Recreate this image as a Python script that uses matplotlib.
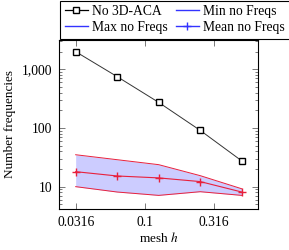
import matplotlib
matplotlib.use("Agg")
import matplotlib.pyplot as plt
from matplotlib.lines import Line2D
from matplotlib.ticker import FixedLocator, LogLocator, NullFormatter, FuncFormatter

plt.rcParams['font.family'] = ['Liberation Serif', 'DejaVu Serif']
plt.rcParams['mathtext.fontset'] = 'stix'

# mesh sizes h = 1/32 ... 1/2
mesh_h = [1 / 32, 1 / 16, 1 / 8, 1 / 4, 1 / 2]
no_aca = [2000, 750, 273, 91, 27.5]
min_freqs = [10, 8.1, 7.1, 8.2, 7.1]
max_freqs = [35, 28.8, 23.7, 15.4, 9.2]
mean_freqs = [18, 15.2, 14.1, 12.2, 8.1]

x_ticks = [0.0316, 0.1, 0.316]
x_ticklabels = ['0.0316', '0.1', '0.316']
y_ticks = [10, 100, 1000]

RED = '#e8203c'
FILL = '#ccccff'
BLUE = '#3333ff'

fig = plt.figure(figsize=(2.89, 2.5), dpi=100)
ax = fig.add_axes([0.204, 0.163, 0.690, 0.678])

ax.fill_between(mesh_h, min_freqs, max_freqs, color=FILL, lw=0)
ax.plot(mesh_h, min_freqs, color=RED, lw=0.7)
ax.plot(mesh_h, max_freqs, color=RED, lw=0.7)
ax.plot(mesh_h, mean_freqs, color=RED, lw=0.8, marker='+', ms=6, mew=1.0)
ax.plot(mesh_h, no_aca, color='#333333', lw=0.7, marker='s', ms=4.5,
        mfc='white', mec='black', mew=1.0)

ax.set_xscale('log')
ax.set_yscale('log')
ax.set_xlim(0.02365, 0.66)
ax.set_ylim(4.12, 3190)

ax.xaxis.set_major_locator(FixedLocator(x_ticks))
ax.set_xticklabels(x_ticklabels)
ax.xaxis.set_minor_locator(FixedLocator([]))
ax.yaxis.set_major_locator(FixedLocator(y_ticks))
ax.yaxis.set_major_formatter(FuncFormatter(lambda v, p: f'{int(round(v)):,}'))
ax.yaxis.set_minor_locator(LogLocator(base=10, subs=range(2, 10)))
ax.yaxis.set_minor_formatter(NullFormatter())

ax.tick_params(which='both', direction='in', top=True, right=True,
               labelsize=9.8, colors='#444444', labelcolor='black', width=0.5)
ax.tick_params(which='major', length=4, pad=5)
ax.tick_params(which='minor', length=2.2)
for s in ax.spines.values():
    s.set_linewidth(0.8)

ax.set_xlabel('mesh $h$', fontsize=9.5, labelpad=1)
ax.set_ylabel('Number frequencies', fontsize=9.5, labelpad=4)

# matplotlib fills legend column by column
handles = [
    Line2D([], [], color='black', lw=0.9, marker='s', ms=4.5, mfc='white', mew=1.0),
    Line2D([], [], color=BLUE, lw=1.0),
    Line2D([], [], color=BLUE, lw=1.0),
    Line2D([], [], color=BLUE, lw=1.0, marker='+', ms=6, mew=1.0),
]
labels = ['No 3D-ACA', 'Max no Freqs', 'Min no Freqs', 'Mean no Freqs']
leg = fig.legend(handles, labels, ncol=2, loc='upper left',
                 bbox_to_anchor=(0.2076, 0.998), fontsize=9.8, frameon=True,
                 fancybox=False, edgecolor='black', framealpha=1,
                 handlelength=1.7, handletextpad=0.3, columnspacing=0.6,
                 labelspacing=0.2, borderpad=0.35, borderaxespad=0)
leg.get_frame().set_linewidth(0.8)

fig.savefig('out.png', dpi=100)
